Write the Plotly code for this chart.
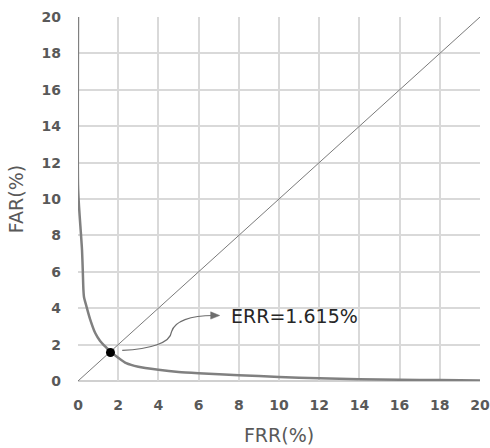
import plotly.graph_objects as go

# DET curve data (FRR %, FAR %)
frr = [0.0, 0.0, 0.05, 0.12, 0.2, 0.24, 0.27, 0.3, 0.42, 0.6, 0.85, 1.1, 1.35, 1.615,
       2.0, 2.4, 3.0, 4.0, 5.0, 6.0, 8.0, 10.0, 12.0, 14.0, 16.0, 18.0, 20.0]
far = [20.0, 10.8, 9.6, 8.5, 7.2, 6.0, 5.0, 4.6, 4.1, 3.4, 2.65, 2.2, 1.9, 1.615,
       1.28, 0.98, 0.78, 0.62, 0.5, 0.43, 0.32, 0.22, 0.15, 0.1, 0.07, 0.05, 0.03]
err_value = 1.615
diag = [0, 20]
ticks = list(range(0, 21, 2))

FONT = "DejaVu Sans"

fig = go.Figure()
fig.add_trace(go.Scatter(x=diag, y=diag, mode="lines",
                         line=dict(color="#7a7a7a", width=1), hoverinfo="skip"))
fig.add_trace(go.Scatter(x=frr, y=far, mode="lines",
                         line=dict(color="#808080", width=2.5, shape="spline", smoothing=0.6)))
fig.add_trace(go.Scatter(x=[err_value], y=[err_value - 0.05], mode="markers",
                         marker=dict(color="black", size=9)))

# curved arrow
fig.add_shape(type="path", xref="x", yref="y",
              path="M 2.2 1.68 C 3.6 1.75, 4.6 2.1, 4.65 2.7 C 4.8 3.3, 5.6 3.6, 6.75 3.6",
              line=dict(color="#6d6d6d", width=1.2))
fig.add_shape(type="path", xref="x", yref="y",
              path="M 7.05 3.6 L 6.6 3.8 L 6.6 3.4 Z",
              fillcolor="#6d6d6d", line=dict(color="#6d6d6d", width=0.5))
fig.add_annotation(x=7.5, y=3.55, xref="x", yref="y", text="ERR=1.615%",
                   showarrow=False, xanchor="left", yanchor="middle",
                   font=dict(family=FONT, size=19, color="#262626"))

axis_common = dict(range=[0, 20], tickvals=ticks, showgrid=True, gridcolor="#d9d9d9",
                   gridwidth=2, zeroline=False, showline=False, automargin=False,
                   tickfont=dict(family=FONT, size=14, color="#595959", weight="bold"),
                   title_font=dict(family=FONT, size=19, color="#595959"))
fig.update_xaxes(**axis_common, title_text="FRR(%)", title_standoff=16, ticks="", ticklabelstandoff=14)
fig.update_yaxes(**axis_common, title_text="FAR(%)", title_standoff=12, ticks="", ticklabelstandoff=16)

fig.add_shape(type="line", xref="paper", yref="paper", x0=0, x1=1, y0=0, y1=0,
              line=dict(color="#d0d0d0", width=2), layer="below")

fig.update_layout(width=490, height=448, margin=dict(l=78, r=10, t=17, b=67),
                  plot_bgcolor="white", paper_bgcolor="white", showlegend=False)
fig.write_html("out.html", config={"displayModeBar": False},
               post_script="document.body.style.margin='0';document.body.style.overflow='hidden';")
